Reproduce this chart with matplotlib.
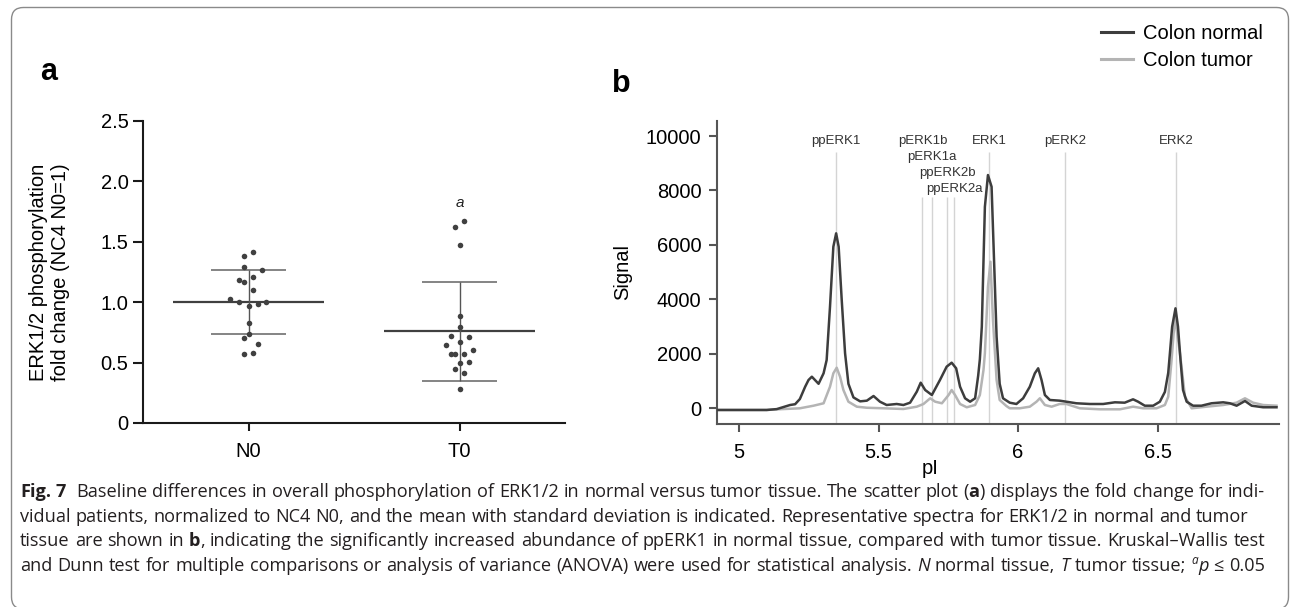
import numpy as np
import matplotlib
matplotlib.use("Agg")
import matplotlib.pyplot as plt
from matplotlib import font_manager
from matplotlib.patches import FancyBboxPatch
from matplotlib.lines import Line2D

# --- data ---
groups = ["N0", "T0"]

n0_vals = [1.385, 1.418, 1.294, 1.267, 1.186, 1.165, 1.206, 1.104, 1.026, 1.004,
           0.966, 0.982, 1.004, 0.825, 0.734, 0.704, 0.651, 0.574, 0.582]
n0_jitter = [-0.022, 0.021, -0.022, 0.065, -0.044, -0.022, 0.021, 0.021, -0.087, -0.044,
             0.0, 0.043, 0.085, 0.0, 0.0, -0.022, 0.043, -0.022, 0.021]
t0_vals = [1.625, 1.675, 1.476, 0.886, 0.792, 0.723, 0.712, 0.673, 0.646, 0.602,
           0.569, 0.574, 0.574, 0.497, 0.502, 0.444, 0.411, 0.279]
t0_jitter = [-0.020, 0.022, 0.0, 0.0, 0.0, -0.041, 0.044, 0.0, -0.063, 0.065,
             -0.041, -0.020, 0.022, 0.0, 0.044, -0.020, 0.022, 0.0]
group_mean = [1.005, 0.76]
group_sd_low = [0.74, 0.35]
group_sd_high = [1.27, 1.17]

normal_pi = [4.920, 5.002, 5.099, 5.135, 5.183, 5.201, 5.218, 5.237, 5.249, 5.261,
             5.285, 5.303, 5.314, 5.326, 5.338, 5.348, 5.357, 5.368, 5.380, 5.392,
             5.410, 5.434, 5.458, 5.482, 5.505, 5.529, 5.565, 5.589, 5.613, 5.637,
             5.651, 5.667, 5.691, 5.720, 5.744, 5.762, 5.778, 5.792, 5.810, 5.828,
             5.846, 5.857, 5.863, 5.870, 5.875, 5.881, 5.892, 5.905, 5.913, 5.923,
             5.934, 5.946, 5.970, 5.994, 6.018, 6.042, 6.060, 6.072, 6.084, 6.096,
             6.114, 6.149, 6.173, 6.209, 6.257, 6.305, 6.347, 6.382, 6.412, 6.430,
             6.454, 6.484, 6.508, 6.526, 6.538, 6.544, 6.552, 6.564, 6.573, 6.582,
             6.591, 6.604, 6.627, 6.657, 6.693, 6.735, 6.759, 6.783, 6.813, 6.837,
             6.878, 6.926]
normal_sig = [-62, -62, -62, -30, 121, 150, 340, 793, 1039, 1160,
              900, 1285, 1773, 3730, 5934, 6426, 5934, 3977, 2020, 900,
              400, 255, 280, 451, 242, 121, 158, 121, 206, 610,
              940, 672, 488, 1039, 1528, 1675, 1469, 793, 367, 242,
              367, 1200, 1800, 3000, 5000, 7400, 8567, 8137, 5692, 2629,
              900, 367, 206, 158, 367, 793, 1285, 1469, 1039, 488,
              305, 280, 242, 184, 158, 158, 220, 206, 330, 242,
              95, 95, 242, 600, 1300, 2020, 2997, 3672, 2997, 1773,
              672, 242, 95, 95, 184, 220, 184, 95, 268, 95,
              37, 37]

tumor_pi = [4.920, 5.099, 5.135, 5.218, 5.267, 5.303, 5.326, 5.338, 5.350, 5.362,
            5.374, 5.392, 5.422, 5.458, 5.518, 5.589, 5.637, 5.661, 5.685, 5.703,
            5.727, 5.751, 5.762, 5.774, 5.792, 5.816, 5.846, 5.863, 5.876, 5.881,
            5.892, 5.901, 5.910, 5.923, 5.934, 5.958, 5.970, 6.006, 6.042, 6.066,
            6.078, 6.096, 6.120, 6.149, 6.173, 6.221, 6.293, 6.365, 6.412, 6.448,
            6.496, 6.526, 6.538, 6.550, 6.562, 6.580, 6.598, 6.622, 6.675, 6.735,
            6.783, 6.813, 6.842, 6.878, 6.926]
tumor_sig = [-62, -62, -40, 0, 95, 184, 793, 1285, 1490, 1160,
             672, 242, 59, 20, 0, -26, 59, 158, 367, 242,
             184, 488, 672, 488, 158, 37, 121, 488, 1406, 2020,
             4465, 5384, 3242, 1039, 305, 84, 0, 0, 59, 242,
             367, 121, 59, 158, 158, 0, -37, -37, 59, 0,
             0, 121, 426, 1773, 3364, 2020, 426, 0, 59, 121,
             206, 367, 206, 121, 95]

peak_names = ["ppERK1", "pERK1b", "pERK1a", "ppERK2b", "ppERK2a", "ERK1", "pERK2", "ERK2"]
peak_pi = [5.348, 5.657, 5.690, 5.746, 5.772, 5.896, 6.168, 6.566]
peak_label_y = [9826, 9826, 9239, 8651, 8064, 9826, 9826, 9826]
peak_line_top = [9411, 7760, 7760, 7760, 7760, 9411, 9411, 9411]

caption = [
    [("Fig. 7", "b"), ("  Baseline differences in overall phosphorylation of ERK1/2 in normal versus tumor tissue. The scatter plot (", "n"),
     ("a", "b"), (") displays the fold change for indi-", "n")],
    [("vidual patients, normalized to NC4 N0, and the mean with standard deviation is indicated. Representative spectra for ERK1/2 in normal and tumor", "n")],
    [("tissue are shown in ", "n"), ("b", "b"),
     (", indicating the significantly increased abundance of ppERK1 in normal tissue, compared with tumor tissue. Kruskal\u2013Wallis test", "n")],
    [("and Dunn test for multiple comparisons or analysis of variance (ANOVA) were used for statistical analysis. ", "n"),
     ("N", "i"), (" normal tissue, ", "n"), ("T", "i"), (" tumor tissue; ", "n"), ("a", "sup"), ("p", "i"), (" \u2264 0.05", "n")],
]
caption_justify = [True, False, True, True]

# --- styling ---
W, H = 1290, 607
DARK = "#3d3d3d"
LIGHT = "#b4b4b4"
plt.rcParams["font.family"] = ["Liberation Sans", "DejaVu Sans"]

installed = {f.name for f in font_manager.fontManager.ttflist}
cap_font = "Liberation Sans Narrow" if "Liberation Sans Narrow" in installed else "Open Sans"
cap_family = [cap_font, "DejaVu Sans"]
cap_color = "#231f20"

fig = plt.figure(figsize=(W / 100, H / 100), dpi=100)

# --- panel a ---
ax_a = fig.add_axes([143 / W, 1 - 423 / H, 422 / W, 302 / H])
for i, (vals, jit) in enumerate([(n0_vals, n0_jitter), (t0_vals, t0_jitter)]):
    ax_a.scatter(i + np.array(jit), vals, s=16, color="#404040", linewidths=0, zorder=3)
    ax_a.hlines(group_mean[i], i - 0.356, i + 0.356, color="#404040", lw=1.6, zorder=2)
    ax_a.hlines([group_sd_low[i], group_sd_high[i]], i - 0.178, i + 0.178, color="#707070", lw=1.2, zorder=2)
    ax_a.vlines(i, group_sd_low[i], group_sd_high[i], color="#555555", lw=1.0, zorder=2)
ax_a.text(1, 1.82, "a", style="italic", fontsize=11, ha="center", va="center", color="#222222")

ax_a.set_xlim(-0.5, 1.5)
ax_a.set_ylim(0, 2.5)
ax_a.set_xticks([0, 1], groups)
ax_a.set_yticks([0, 0.5, 1.0, 1.5, 2.0, 2.5], ["0", "0.5", "1.0", "1.5", "2.0", "2.5"])
for s in ["top", "right"]:
    ax_a.spines[s].set_visible(False)
for s in ["left", "bottom"]:
    ax_a.spines[s].set_linewidth(1.5)
    ax_a.spines[s].set_color("#1a1a1a")
ax_a.tick_params(axis="y", length=7, width=1.5, pad=3.5, labelsize=14.5, color="#1a1a1a")
ax_a.tick_params(axis="x", length=6, width=1.5, pad=8, labelsize=14.5, color="#1a1a1a")
ax_a.set_ylabel("ERK1/2 phosphorylation\nfold change (NC4 N0=1)", fontsize=14.5, ha="center", va="center")
ax_a.yaxis.set_label_coords(-0.221, 0.5)

# --- panel b ---
ax_b = fig.add_axes([716.7 / W, 1 - 424 / H, 562.6 / W, 303.3 / H])
ymin, ymax = -577, 10563
ax_b.vlines(peak_pi, ymin, peak_line_top, color="#d4d4d4", lw=1.0, zorder=1)
for name, x, y in zip(peak_names, peak_pi, peak_label_y):
    ax_b.text(x, y, name, fontsize=9.5, ha="center", va="center", color="#333333")
ax_b.plot(tumor_pi, tumor_sig, color=LIGHT, lw=1.8, zorder=2)
ax_b.plot(normal_pi, normal_sig, color=DARK, lw=1.8, zorder=3)

ax_b.set_xlim(4.92, 6.936)
ax_b.set_ylim(ymin, ymax)
ax_b.set_xticks([5, 5.5, 6, 6.5], ["5", "5.5", "6", "6.5"])
ax_b.set_yticks(range(0, 10001, 2000))
for s in ["top", "right"]:
    ax_b.spines[s].set_visible(False)
for s in ["left", "bottom"]:
    ax_b.spines[s].set_linewidth(1.5)
    ax_b.spines[s].set_color("#555555")
ax_b.tick_params(axis="y", length=6, width=1.5, pad=5, labelsize=14.5, color="#555555")
ax_b.tick_params(axis="x", length=6, width=1.5, pad=8, labelsize=14.5, color="#555555")
ax_b.set_ylabel("Signal", fontsize=14.5, ha="center", va="center")
ax_b.yaxis.set_label_coords(-0.168, 0.5)
ax_b.set_xlabel("pI", fontsize=14.5, ha="center", va="center")
ax_b.xaxis.set_label_coords((930 - 716.7) / 562.6, (424 - 468) / 303.3)

handles = [Line2D([], [], color=DARK, lw=2.2), Line2D([], [], color=LIGHT, lw=2.2)]
fig.legend(handles, ["Colon normal", "Colon tumor"], loc="upper left",
           bbox_to_anchor=(1101 / W, 1 - 24 / H), frameon=False, fontsize=14.5,
           handlelength=1.6, handletextpad=0.5, labelspacing=0.4, borderpad=0, borderaxespad=0)

fig.text(49 / W, 1 - 80 / H, "a", fontsize=22, fontweight="bold", ha="center", va="baseline")
fig.text(621 / W, 1 - 92 / H, "b", fontsize=22, fontweight="bold", ha="center", va="baseline")

# --- frame ---
frame = FancyBboxPatch((0.115, -0.02), 12.77, 6.015, boxstyle="round,pad=0,rounding_size=0.12",
                       transform=fig.dpi_scale_trans, fill=False, edgecolor="#8a8a8a", lw=1.0)
fig.add_artist(frame)

# --- caption, laid out word by word ---
renderer = fig.canvas.get_renderer()


def make_run(txt, st, size):
    kw = dict(family=cap_family, fontsize=size, color=cap_color, ha="left", va="baseline")
    if st == "b":
        kw["fontweight"] = "bold"
    elif st == "i":
        kw["fontstyle"] = "italic"
    elif st == "sup":
        kw["fontstyle"] = "italic"
        kw["fontsize"] = size * 0.65
    return fig.text(0, 0, txt, **kw)


def split_words(runs):
    words = [[]]
    for txt, st in runs:
        for j, part in enumerate(txt.split(" ")):
            if j > 0:
                words.append([])
            if part:
                words[-1].append((part, st))
    return words


def build(runs, size):
    objs = [[(make_run(t, s, size), s) for t, s in w] for w in split_words(runs)]
    widths = [[o.get_window_extent(renderer).width for o, _ in w] for w in objs]
    return objs, widths


def space_width(size):
    a = make_run("n n", "n", size)
    b = make_run("nn", "n", size)
    w = a.get_window_extent(renderer).width - b.get_window_extent(renderer).width
    a.remove()
    b.remove()
    return w


x_left, x_right = 20, 1265
objs, widths = build(caption[0], 10)
natural = sum(sum(w) for w in widths) + space_width(10) * (len(widths) - 1)
for w in objs:
    for o, _ in w:
        o.remove()
cap_size = 10 * (x_right - x_left) / natural
sp = space_width(cap_size)

baselines = [497, 521.7, 546.3, 571]
for runs, yb, just in zip(caption, baselines, caption_justify):
    objs, widths = build(runs, cap_size)
    total = sum(sum(w) for w in widths)
    gaps = len(widths) - 1
    gap = (x_right - x_left - total) / gaps if (just or total + sp * gaps > x_right - x_left) else sp
    x = x_left
    for w_objs, w_widths in zip(objs, widths):
        for (o, st), ww in zip(w_objs, w_widths):
            dy = cap_size * 0.36 * 100 / 72 if st == "sup" else 0
            o.set_position((x / W, 1 - (yb - dy) / H))
            x += ww
        x += gap

fig.savefig("out.png", dpi=100)
